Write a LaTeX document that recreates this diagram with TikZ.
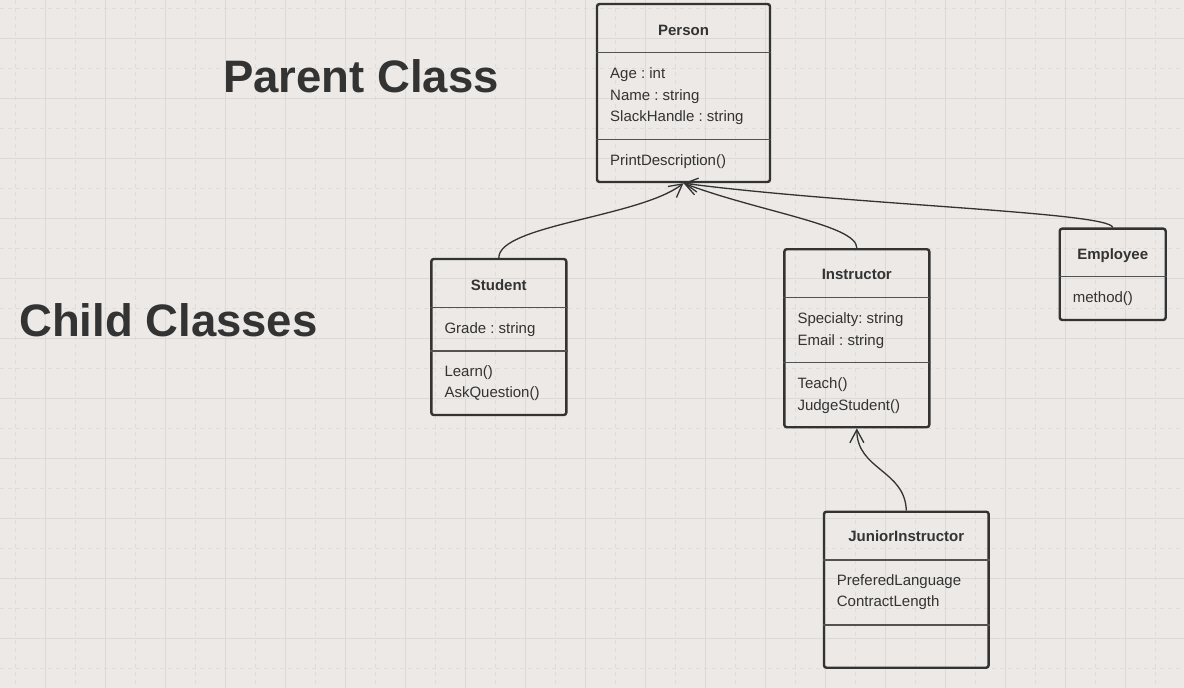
\documentclass[tikz,border=0pt]{standalone}
\usepackage{fontspec}
\setmainfont{Liberation Sans}
\usetikzlibrary{arrows.meta}
\definecolor{canvas}{RGB}{236,233,230}
\definecolor{gridline}{RGB}{220,217,214}
\definecolor{gridfaint}{RGB}{222,219,216}
\definecolor{ink}{RGB}{51,51,51}
\frenchspacing

\begin{document}
\begin{tikzpicture}[x=1pt, y=-1pt, font=\fontsize{15}{18}\selectfont, text=ink,
	classbox/.style={draw=ink, line width=2.4pt, rounded corners=2.5pt, inner sep=0pt},
	classname/.style={anchor=base, inner sep=0pt, font=\fontsize{15}{18}\selectfont\bfseries},
	member/.style={anchor=base west, inner sep=0pt},
	divider/.style={draw=ink!85, line width=1.4pt},
	heading/.style={anchor=base west, inner sep=0pt, font=\fontsize{45.5}{50}\selectfont\bfseries},
	inherit/.style={draw=ink, line width=1.3pt, -{Straight Barb[length=13pt,width=14pt]}}]
	\useasboundingbox (0,0) rectangle (1184,688);
	\fill[canvas] (0,0) rectangle (1184,688);

	\foreach \x in {15,75,...,1184} \draw[gridfaint, line width=1pt, dash pattern=on 4pt off 4pt] (\x,0) -- (\x,688);
	\foreach \x in {45,105,...,1184} \draw[gridline, line width=1pt] (\x,0) -- (\x,688);
	\foreach \y in {8,68,...,688} \draw[gridfaint, line width=1pt, dash pattern=on 4pt off 4pt] (0,\y) -- (1184,\y);
	\foreach \y in {38,98,...,688} \draw[gridline, line width=1pt] (0,\y) -- (1184,\y);

	\node[heading] (parentlabel) at (223,92.3) {Parent Class};
	\node[heading] (childlabel)  at (19,336.7) {Child Classes};

	\node[classbox, minimum width=173pt, minimum height=178pt] (Person) at (683.5,93) {};
	\node[classname] (PersonName) at (683.5,35) {Person};
	\draw[divider] (Person.west |- 0,52.3) -- (Person.east |- 0,52.3);
	\node[member] (PersonAge)    at (610,78)    {Age : int};
	\node[member] (PersonNm)     at (610,100)   {Name : string};
	\node[member] (PersonSlack)  at (610,121.7) {SlackHandle : string};
	\draw[divider] (Person.west |- 0,139.3) -- (Person.east |- 0,139.3);
	\node[member] (PersonPrint)  at (610,165)   {PrintDescription()};

	\node[classbox, minimum width=135pt, minimum height=156pt] (Student) at (498.8,337) {};
	\node[classname] (StudentName) at (498.8,290) {Student};
	\draw[divider] (Student.west |- 0,307.7) -- (Student.east |- 0,307.7);
	\node[member] (StudentGrade) at (444.3,333)   {Grade : string};
	\draw[divider] (Student.west |- 0,351) -- (Student.east |- 0,351);
	\node[member] (StudentLearn) at (444.3,376)   {Learn()};
	\node[member] (StudentAsk)   at (444.3,397.5) {AskQuestion()};

	\node[classbox, minimum width=145pt, minimum height=178pt] (Instructor) at (856.8,338.2) {};
	\node[classname] (InstructorName) at (856.8,279) {Instructor};
	\draw[divider] (Instructor.west |- 0,297.3) -- (Instructor.east |- 0,297.3);
	\node[member] (InstructorSpec)  at (797.3,323.3) {Specialty: string};
	\node[member] (InstructorMail)  at (797.3,345)   {Email : string};
	\draw[divider] (Instructor.west |- 0,362.3) -- (Instructor.east |- 0,362.3);
	\node[member] (InstructorTeach) at (797.3,388.3) {Teach()};
	\node[member] (InstructorJudge) at (797.3,410)   {JudgeStudent()};

	\node[classbox, minimum width=106pt, minimum height=91.3pt] (Employee) at (1112.7,274.3) {};
	\node[classname] (EmployeeName) at (1112.7,259) {Employee};
	\draw[divider] (Employee.west |- 0,276.7) -- (Employee.east |- 0,276.7);
	\node[member] (EmployeeMethod) at (1072.7,302.3) {method()};

	\node[classbox, minimum width=164.7pt, minimum height=156pt] (Junior) at (906.3,589.7) {};
	\node[classname] (JuniorName) at (906.3,541.7) {JuniorInstructor};
	\draw[divider] (Junior.west |- 0,560) -- (Junior.east |- 0,560);
	\node[member] (JuniorLang)     at (836.7,585)   {PreferedLanguage};
	\node[member] (JuniorContract) at (836.7,606.7) {ContractLength};
	\draw[divider] (Junior.west |- 0,625) -- (Junior.east |- 0,625);

	\draw[inherit] (Student.north) .. controls (499,225) and (640,217) .. (Person.south);
	\draw[inherit] (Instructor.north) .. controls (857,225) and (760,212) .. (Person.south);
	\draw[inherit] (Employee.north) .. controls (1110,212) and (850,205) .. (Person.south);
	\draw[inherit] (Junior.north) .. controls (905,470) and (857,470) .. (Instructor.south);

\end{tikzpicture}
\end{document}
